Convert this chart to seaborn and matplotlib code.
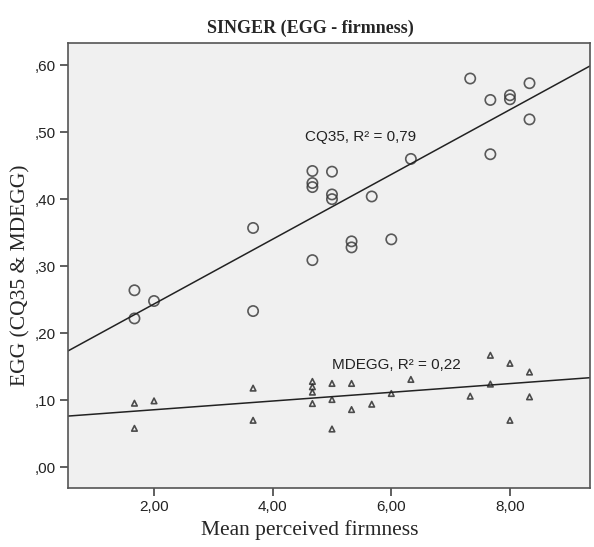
import numpy as np
import pandas as pd
import seaborn as sns
import matplotlib.pyplot as plt
from matplotlib.ticker import FuncFormatter

# Mean perceived firmness per stimulus (shared by both measures)
firmness = [1.67, 1.67, 2.00, 3.67, 3.67, 4.67, 4.67, 4.67, 4.67, 5.00, 5.00, 5.00,
            5.33, 5.33, 5.67, 6.00, 6.33, 7.33, 7.67, 7.67, 8.00, 8.00, 8.33, 8.33]

# CQ35 values (circles)
cq35 = [0.264, 0.222, 0.248, 0.357, 0.233, 0.442, 0.424, 0.418, 0.309, 0.441, 0.407, 0.400,
        0.337, 0.328, 0.404, 0.340, 0.460, 0.580, 0.548, 0.467, 0.555, 0.549, 0.573, 0.519]

# MDEGG values (triangles)
mdegg = [0.0955, 0.058, 0.099, 0.118, 0.070, 0.128, 0.120, 0.112, 0.095, 0.125, 0.101, 0.057,
         0.125, 0.086, 0.094, 0.110, 0.131, 0.106, 0.167, 0.124, 0.155, 0.070, 0.142, 0.105]

df = pd.DataFrame({"firmness": firmness, "CQ35": cq35, "MDEGG": mdegg})

sns.set_style("white")
fig = plt.figure(figsize=(5.94, 5.47), dpi=100)
ax = fig.add_axes([0.1145, 0.1079, 0.8788, 0.8135])
ax.set_facecolor("#f0f0f0")

# limits first so the fit lines span the whole axis
ax.set_xlim(0.55, 9.35)
ax.set_ylim(-0.031, 0.633)

sns.regplot(data=df, x="firmness", y="CQ35", ax=ax, ci=None, truncate=False,
            marker="o",
            scatter_kws={"s": 55, "facecolors": "none", "edgecolors": "#333333", "linewidths": 1.2},
            line_kws={"color": "#222222", "linewidth": 1.1})
sns.regplot(data=df, x="firmness", y="MDEGG", ax=ax, ci=None, truncate=False,
            marker="^",
            scatter_kws={"s": 16, "facecolors": "none", "edgecolors": "#222222", "linewidths": 1.2},
            line_kws={"color": "#222222", "linewidth": 1.1})

ax.set_xlim(0.55, 9.35)
ax.set_ylim(-0.031, 0.633)

ax.text(4.55, 0.493, "CQ35, R² = 0,79", fontsize=11, va="center", color="#222222",
        family="Liberation Sans")
ax.text(5.0, 0.152, "MDEGG, R² = 0,22", fontsize=11, va="center", color="#222222",
        family="Liberation Sans")

ax.set_xticks([2, 4, 6, 8])
ax.set_yticks([0, 0.1, 0.2, 0.3, 0.4, 0.5, 0.6])
ax.xaxis.set_major_formatter(FuncFormatter(lambda v, p: f"{v:.2f}".replace(".", ",")))
ax.yaxis.set_major_formatter(FuncFormatter(lambda v, p: f"{v:.2f}".replace(".", ",").lstrip("0")))
ax.tick_params(axis="both", direction="out", length=6, width=1.2, color="#444444",
               labelsize=11, labelcolor="#222222", pad=3, left=True, bottom=True)
for lab in ax.get_xticklabels() + ax.get_yticklabels():
    lab.set_family("Liberation Sans")

for s in ax.spines.values():
    s.set_color("#555555")
    s.set_linewidth(1.2)

# SPSS puts the titles a little off the axes centre
ax.set_xlabel("Mean perceived firmness", family="Liberation Serif", fontsize=15.5,
              labelpad=4, x=0.4636)
ax.set_ylabel("EGG (CQ35 & MDEGG)", family="Liberation Serif", fontsize=15.5,
              labelpad=3, y=0.479)
ax.set_title("SINGER (EGG - firmness)", family="Liberation Serif", fontweight="bold",
             fontsize=13, pad=7, x=0.4636)

fig.savefig("out.png", dpi=100)
